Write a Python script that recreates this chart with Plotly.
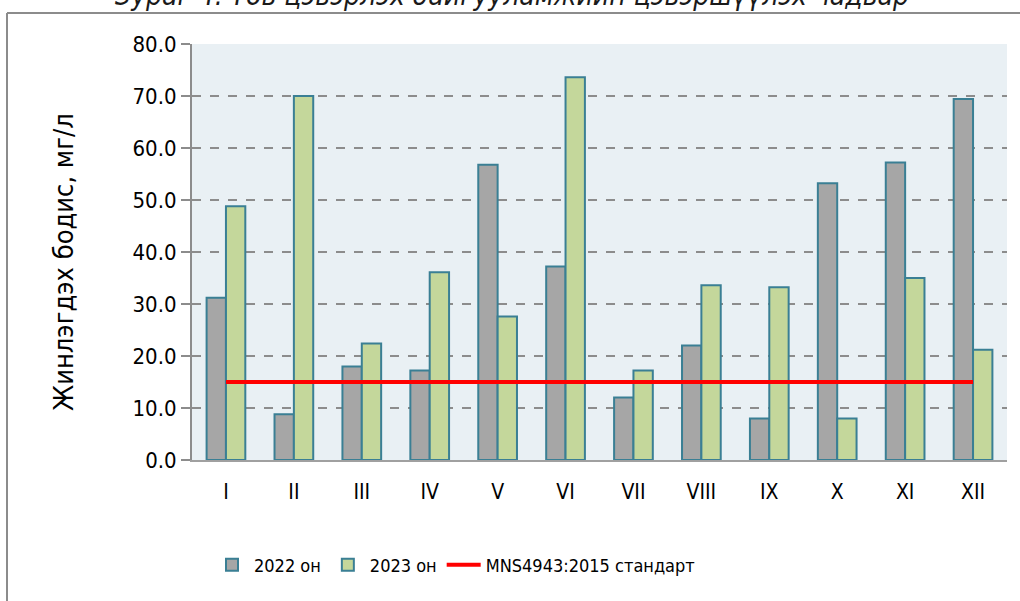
import plotly.graph_objects as go

months = ["I", "II", "III", "IV", "V", "VI", "VII", "VIII", "IX", "X", "XI", "XII"]
y2022 = [31.2, 8.8, 18.0, 17.2, 56.8, 37.2, 12.0, 22.0, 8.0, 53.2, 57.2, 69.4]
y2023 = [48.8, 70.0, 22.4, 36.1, 27.6, 73.6, 17.2, 33.6, 33.2, 8.0, 35.0, 21.2]
standard = [15, 15, 15, 15, 15, 15, 15, 15, 15, 15, 15, 15]

name2022 = "2022 он"
name2023 = "2023 он"
name_std = "MNS4943:2015 стандарт"
y_title = "Жинлэгдэх бодис, мг/л"
title_text = "Зураг 4. Төв цэвэрлэх байгууламжийн цэвэршүүлэх чадвар"

FONT = "DejaVu Sans Condensed, Liberation Sans Narrow, Arial Narrow, Arial, sans-serif"
EDGE = "#3A7F94"

W, H = 1020, 601
L, R, T, B = 192, 13, 44, 141
pw, ph = W - L - R, H - T - B

def px(x):
    return (x - L) / pw

def py(y):
    return (H - B - y) / ph

fig = go.Figure()
fig.add_trace(go.Bar(x=months, y=y2022, name=name2022,
                     marker=dict(color="#A6A6A6", line=dict(color=EDGE, width=2))))
fig.add_trace(go.Bar(x=months, y=y2023, name=name2023,
                     marker=dict(color="#C4D79B", line=dict(color=EDGE, width=2))))
fig.add_trace(go.Scatter(x=months, y=standard, name=name_std, mode="lines",
                         line=dict(color="#FF0000", width=4)))

fig.update_layout(
    width=W, height=H,
    margin=dict(l=L, r=R, t=T, b=B, autoexpand=False),
    paper_bgcolor="white",
    plot_bgcolor="#E9F0F4",
    barmode="group",
    bargap=0.43,
    bargroupgap=0,
    font=dict(family=FONT, size=21, color="#000000"),
    showlegend=True,
    legend=dict(orientation="h", x=px(210), xanchor="left", y=py(565), yanchor="middle",
                font=dict(family=FONT, size=18), bgcolor="rgba(0,0,0,0)",
                traceorder="normal", itemwidth=34),
    xaxis=dict(showline=True, linecolor="#A0A0A0", linewidth=2, ticks="",
               showgrid=False, ticklabelstandoff=12, automargin=False,
               tickfont=dict(family=FONT, size=21)),
    yaxis=dict(range=[0, 80], dtick=10, tickformat=".1f", ticks="outside",
               ticklen=9, tickcolor="#8C8C8C", tickwidth=2, automargin=False,
               showline=True, linecolor="#8C8C8C", linewidth=2,
               showgrid=True, gridcolor="#8C8C8C", gridwidth=1.5, griddash="dash",
               zeroline=False, tickfont=dict(family=FONT, size=22)),
    annotations=[
        dict(text=y_title, textangle=-90, xref="paper", yref="paper",
             x=px(63), y=py(262), xanchor="center", yanchor="middle", showarrow=False,
             font=dict(family=FONT, size=27, color="#000000")),
        dict(text="<i>" + title_text + "</i>", xref="paper", yref="paper",
             x=px(512), y=py(-4), xanchor="center", yanchor="middle", showarrow=False,
             font=dict(family=FONT, size=28, color="#1a1a1a")),
    ],
    shapes=[
        dict(type="line", xref="paper", yref="paper", x0=px(7), x1=px(1100),
             y0=py(13), y1=py(13), line=dict(color="#8C8C8C", width=2)),
        dict(type="line", xref="paper", yref="paper", x0=px(7), x1=px(7),
             y0=py(13), y1=py(700), line=dict(color="#8C8C8C", width=2)),
    ],
)

fig.write_html("out.html", config={"displayModeBar": False},
               post_script="document.body.style.margin='0';document.body.style.overflow='hidden';")
